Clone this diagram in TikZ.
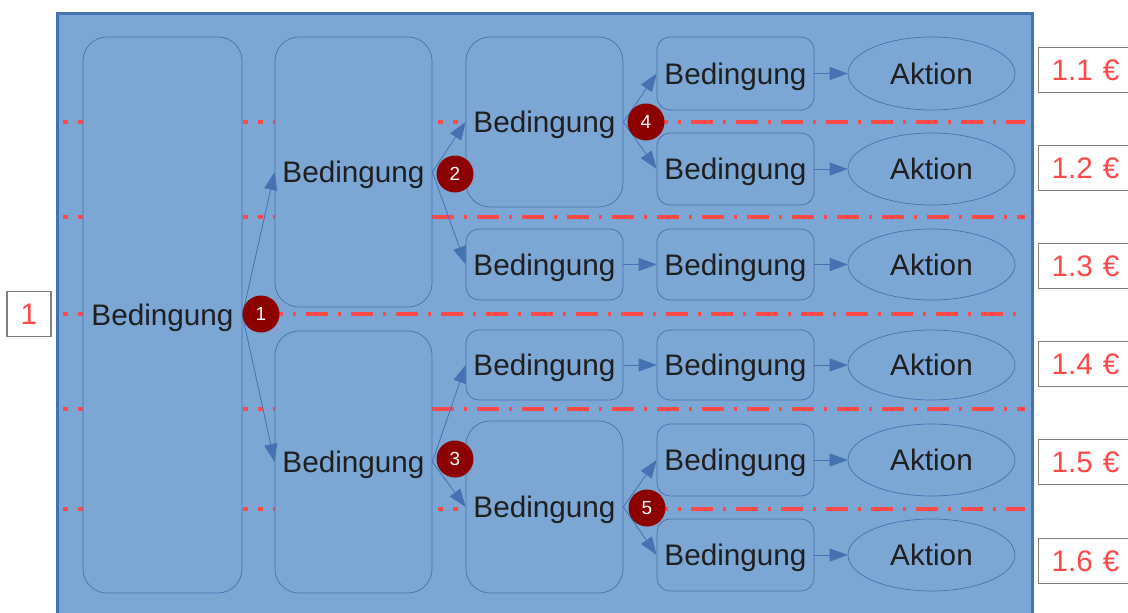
\documentclass[tikz,border=0pt]{standalone}
\usepackage{fontspec}
\setmainfont{Liberation Sans}
\usetikzlibrary{shapes.geometric,arrows.meta,positioning}

\definecolor{paneblue}{RGB}{124,167,212}
\definecolor{edgeblue}{RGB}{68,114,178}
\definecolor{cutred}{RGB}{255,72,72}
\definecolor{markred}{RGB}{140,0,0}
\definecolor{tagframe}{RGB}{128,128,128}
\newcommand{\bigfont}{\fontsize{29.7}{32}\selectfont}

\begin{document}
\begin{tikzpicture}[x=1pt, y=-1pt,
    cond/.style={draw=edgeblue, line width=0.7pt, fill=paneblue, rounded corners=13pt, minimum width=157pt, inner sep=0pt, text depth=0pt, text=black!88, font=\bigfont},
    tall/.style={cond, rounded corners=24pt},
    act/.style={ellipse, draw=edgeblue, line width=0.7pt, fill=paneblue, minimum width=167pt, minimum height=73pt, inner sep=0pt, text=black!88, font=\bigfont},
    flow/.style={draw=edgeblue, line width=0.8pt, -{Triangle[length=18pt, width=13pt]}},
    badge/.style={circle, fill=markred, minimum size=37pt, inner sep=0pt, text=white, font=\fontsize{19}{19}\selectfont},
    tag/.style={draw=tagframe, line width=1.2pt, fill=white, text=cutred, minimum height=45pt, inner xsep=13pt, font=\bigfont},
    cut/.style={cutred, line width=4.5pt, dash pattern=on 22pt off 10pt on 3pt off 10pt},
    dotline/.style={cutred, line width=4.5pt, dash pattern=on 4.5pt off 10.5pt}]
    \useasboundingbox (0,0) rectangle (1128,613);
    \clip (0,0) rectangle (1128,613);

    % outer frame
    \draw[edgeblue, line width=3pt, fill=paneblue] (57,13) rectangle (1032,650);

    % separators
    \foreach \y/\xs in {122/646, 217/432, 314/261, 409/432, 509/646} {
        \draw[dotline] (63,\y) -- (\xs,\y);
        \draw[cut] (\xs,\y) -- (1025,\y);
    }

    % first and second level
    \node[tall, minimum width=159pt, minimum height=556pt] (b1) at (162.5,315) {Bedingung};
    \node[tall, minimum height=270pt] (b2a) at (353.5,172) {Bedingung};
    \node[tall, minimum height=262pt] (b2b) at (353.5,462) {Bedingung};

    % third level
    \node[tall, minimum height=170pt] (b3a) at (544.5,122) {Bedingung};
    \node[cond, minimum height=71pt] (b3b) at (544.5,264.5) {Bedingung};
    \node[cond, minimum height=70pt] (b3c) at (544.5,365) {Bedingung};
    \node[tall, minimum height=172pt] (b3d) at (544.5,507) {Bedingung};

    % fourth level, actions and prices
    \foreach \i/\y/\h/\p in {1/73.5/73/70, 2/169/72/168, 3/264.5/71/266, 4/365/70/364, 5/460/72/462, 6/555/72/561} {
        \node[cond, minimum height=\h pt] (b4\i) at (735.5,\y) {Bedingung};
        \node[act, minimum height=\h pt] (a\i) at (931.5,\y) {Aktion};
        \draw[flow] (b4\i) -- (a\i);
        \node[tag, anchor=west, text width=72pt] (p\i) at (1038,\p) {1.\i\ €};
    }

    % branches
    \foreach \s/\t in {b1/b2a, b1/b2b, b2a/b3a, b2a/b3b, b2b/b3c, b2b/b3d, b3a/b41, b3a/b42, b3b/b43, b3c/b44, b3d/b45, b3d/b46}
        \draw[flow] (\s.east) -- (\t.west);

    % branch markers
    \node[badge] (m1) at (261,314) {1};
    \node[badge] (m2) at (455,174) {2};
    \node[badge] (m3) at (455,459) {3};
    \node[badge] (m4) at (646,122) {4};
    \node[badge] (m5) at (647,508) {5};

    % start tag
    \node[tag, minimum width=44pt, inner xsep=0pt] (t0) at (29,314) {1};
\end{tikzpicture}
\end{document}
